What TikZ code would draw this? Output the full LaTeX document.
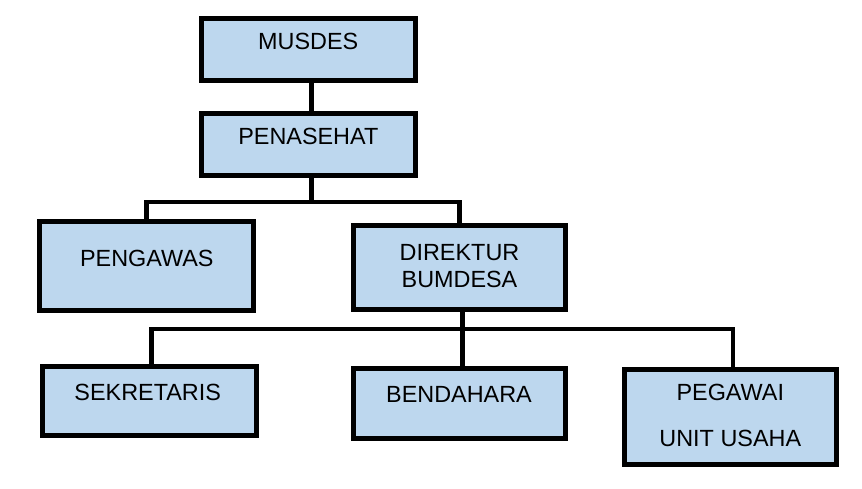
\documentclass[tikz,border=0pt]{standalone}
\usepackage{fontspec}
\setmainfont{Liberation Sans}
\definecolor{boxfill}{HTML}{BDD7EE}
\begin{document}
\begin{tikzpicture}[x=1pt,y=-1pt,
  orgbox/.style={draw=black, fill=boxfill, line width=5pt, rectangle, inner sep=0pt, minimum width=#1},
  orgbox/.default=214pt,
  lbl/.style={inner sep=0pt, align=center, font=\fontsize{23.4}{26.6}\selectfont},
  conn/.style={draw=black, line width=4.5pt}]
\useasboundingbox (0,0) rectangle (862,489);
% boxes
\node[orgbox, minimum height=62pt] (musdes) at (308.5,49.5) {};
\node[orgbox, minimum height=62pt] (penasehat) at (308.5,144.5) {};
\node[orgbox, minimum height=89pt] (pengawas) at (146.5,266) {};
\node[orgbox=212pt, minimum height=84pt] (direktur) at (459.5,267.5) {};
\node[orgbox, minimum height=69pt] (sekretaris) at (149.5,401) {};
\node[orgbox=212pt, minimum height=70pt] (bendahara) at (459.5,403.5) {};
\node[orgbox=212pt, minimum height=95pt] (pegawai) at (730.5,417) {};
% texts
\node[lbl] (tmusdes) at (308.3,41.5) {MUSDES};
\node[lbl] (tpenasehat) at (308.3,136.3) {PENASEHAT};
\node[lbl] (tpengawas) at (146.8,258.7) {PENGAWAS};
\node[lbl] (tdirektur) at (459.5,265.8) {DIREKTUR\\BUMDESA};
\node[lbl] (tsekretaris) at (147.7,392.4) {SEKRETARIS};
\node[lbl] (tbendahara) at (459,394.3) {BENDAHARA};
\node[lbl, font=\fontsize{23.4}{45.3}\selectfont] (tpegawai) at (730.3,415.5) {PEGAWAI\\UNIT USAHA};
% connector helpers
\coordinate (cx) at (311.7,0);
\coordinate (bus1) at (0,202);
\coordinate (bus2) at (0,329);
% level 1
\draw[conn] (cx |- musdes.south) -- (cx |- penasehat.north);
\draw[conn] (cx |- penasehat.south) -- (cx |- bus1);
\draw[conn] (pengawas.north) -- (pengawas.north |- bus1) -- (direktur.north |- bus1) -- (direktur.north);
% level 2
\draw[conn] ([xshift=3pt]direktur.south) -- ([xshift=3pt]bendahara.north);
\draw[conn] ([xshift=2pt]sekretaris.north) -- ([xshift=2pt]sekretaris.north |- bus2) -- ([xshift=2.5pt]pegawai.north |- bus2) -- ([xshift=2.5pt]pegawai.north);
\end{tikzpicture}
\end{document}
